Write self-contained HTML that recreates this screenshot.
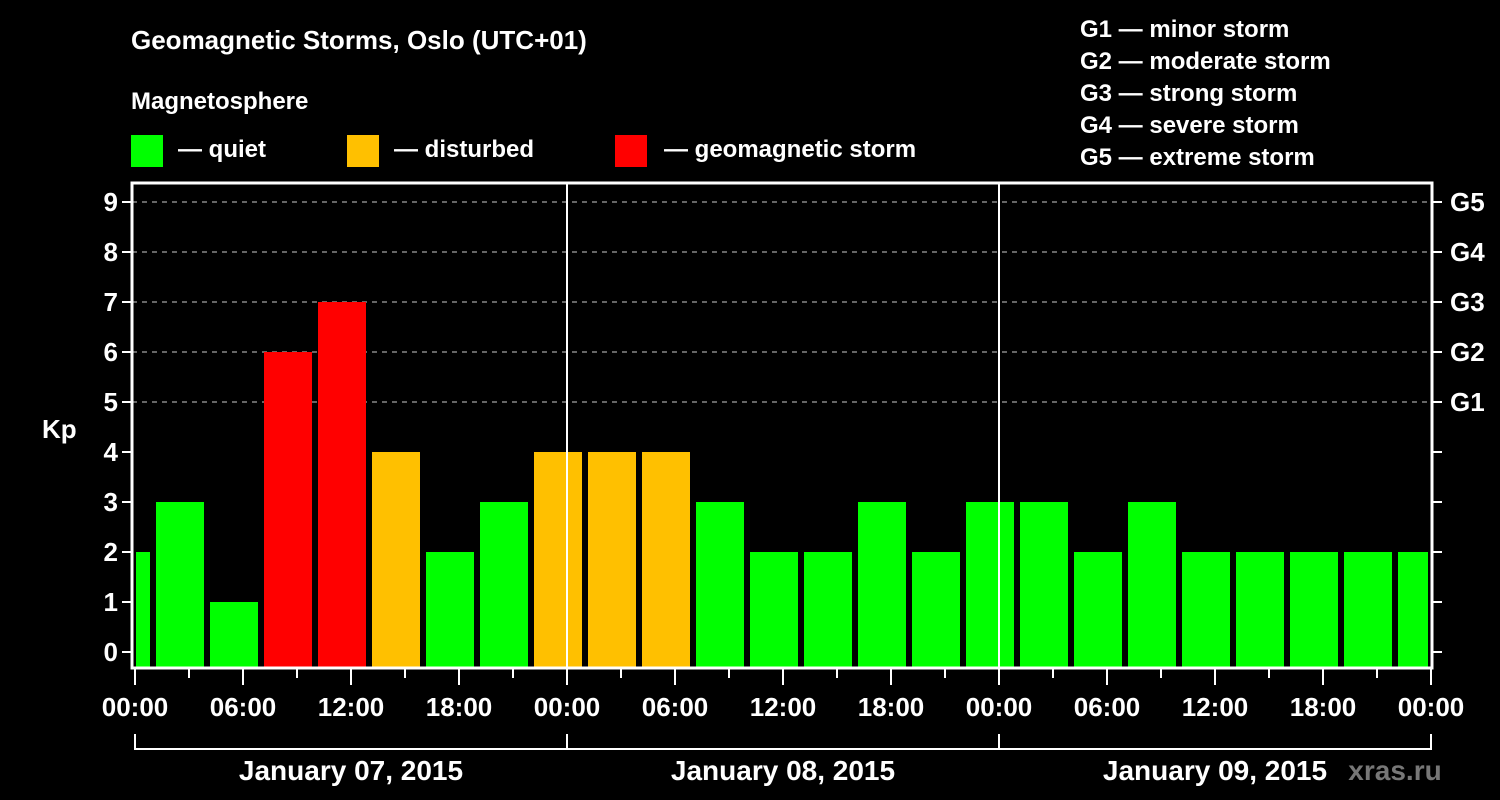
<!DOCTYPE html>
<html><head><meta charset="utf-8"><style>
html,body{margin:0;padding:0;background:#000;}
svg{display:block;font-family:"Liberation Sans",Arial,sans-serif;font-weight:bold;}
</style></head><body>
<svg id="chart" width="1500" height="800" viewBox="0 0 1500 800">
<text x="131" y="49" fill="#fff" font-size="26">Geomagnetic Storms, Oslo (UTC+01)</text>
<text x="131" y="109" fill="#fff" font-size="24">Magnetosphere</text>
<g><rect x="131" y="135" width="32" height="32" fill="#00ff00"/><text x="178" y="157" fill="#fff" font-size="24">— quiet</text></g>
<g><rect x="347" y="135" width="32" height="32" fill="#ffc000"/><text x="394" y="157" fill="#fff" font-size="24">— disturbed</text></g>
<g><rect x="615" y="135" width="32" height="32" fill="#ff0000"/><text x="664" y="157" fill="#fff" font-size="24">— geomagnetic storm</text></g>
<g fill="#fff" font-size="24">
<text x="1080" y="37">G1 — minor storm</text>
<text x="1080" y="69">G2 — moderate storm</text>
<text x="1080" y="101">G3 — strong storm</text>
<text x="1080" y="133">G4 — severe storm</text>
<text x="1080" y="165">G5 — extreme storm</text>
</g>
<text x="42" y="438" fill="#fff" font-size="26">Kp</text>
<g id="grid"></g><g id="bars"></g><g id="axes"></g>
<text x="1395" y="780" fill="#777" font-size="28" text-anchor="middle">xras.ru</text>
</svg>
<script>
const kpValues=[2,3,1,6,7,4,2,3,4,4,4,3,2,2,3,2,3,3,2,3,2,2,2,2,2];
const firstBarHour=-2;
const yTicks=[0,1,2,3,4,5,6,7,8,9];
const gLabels=["G1","G2","G3","G4","G5"];
const gLevels=[5,6,7,8,9];
const dayLabels=["January 07, 2015","January 08, 2015","January 09, 2015"];
const xTickLabels=["00:00","06:00","12:00","18:00"];

const NS="http://www.w3.org/2000/svg";
const L=132,R=1432,T=183,B=668,X0=135,PXH=18;
const x=h=>X0+h*PXH;
const y=v=>652-v*50;
function mk(tag,attrs,parent){const e=document.createElementNS(NS,tag);for(const k in attrs)e.setAttribute(k,attrs[k]);parent.appendChild(e);return e;}
const grid=document.getElementById('grid'),bars=document.getElementById('bars'),axes=document.getElementById('axes');
gLevels.forEach((lv,i)=>{
 const ln=mk('line',{x1:L,x2:R,y1:y(lv),y2:y(lv),stroke:'#888','stroke-dasharray':'5,5','stroke-width':1.5},grid);
 
 
 const t=mk('text',{x:1450,y:y(lv)+9,fill:'#fff','font-size':26},axes);t.textContent=gLabels[i];
 
 
});
function color(v){return v>=5?'#ff0000':(v>=4?'#ffc000':'#00ff00');}
kpValues.forEach((v,i)=>{
 const h=firstBarHour+i*3;
 let a=x(h)+3,b=x(h+3)-3;
 a=Math.max(a,136);b=Math.min(b,1428);
 const r=mk('rect',{x:a,y:y(v),width:b-a,height:B-y(v),fill:color(v)},bars);
 
 
});
for(let d=1;d<dayLabels.length;d++){
 const vl=mk('line',{x1:x(d*24),x2:x(d*24),y1:T,y2:B,stroke:'#fff','stroke-width':2},axes);
 
 
}
const fr=mk('rect',{x:L,y:T,width:R-L,height:B-T,fill:'none',stroke:'#fff','stroke-width':3},axes);


yTicks.forEach(v=>{
 mk('line',{x1:L-10,x2:L,y1:y(v),y2:y(v),stroke:'#fff','stroke-width':2},axes);
 mk('line',{x1:R,x2:R+10,y1:y(v),y2:y(v),stroke:'#fff','stroke-width':2},axes);
 const t=mk('text',{x:L-14,y:y(v)+9,fill:'#fff','font-size':26,'text-anchor':'end'},axes);t.textContent=v;
 
 
});
const totalH=dayLabels.length*24;
for(let h=0;h<=totalH;h+=3){
 const major=h%6===0;
 mk('line',{x1:x(h),x2:x(h),y1:B,y2:major?685:678,stroke:'#fff','stroke-width':2},axes);
 if(major){
  const t=mk('text',{x:x(h),y:716,fill:'#fff','font-size':26,'text-anchor':'middle'},axes);
  t.textContent=xTickLabels[(h/6)%4];
  
  
 }
}
mk('line',{x1:x(0),x2:x(totalH),y1:749,y2:749,stroke:'#fff','stroke-width':2},axes);
for(let d=0;d<=dayLabels.length;d++)mk('line',{x1:x(d*24),x2:x(d*24),y1:734,y2:750,stroke:'#fff','stroke-width':2},axes);
dayLabels.forEach((s,d)=>{
 const t=mk('text',{x:x(d*24+12),y:780,fill:'#fff','font-size':28,'text-anchor':'middle'},axes);t.textContent=s;
 
 
});
</script>
</body></html>
